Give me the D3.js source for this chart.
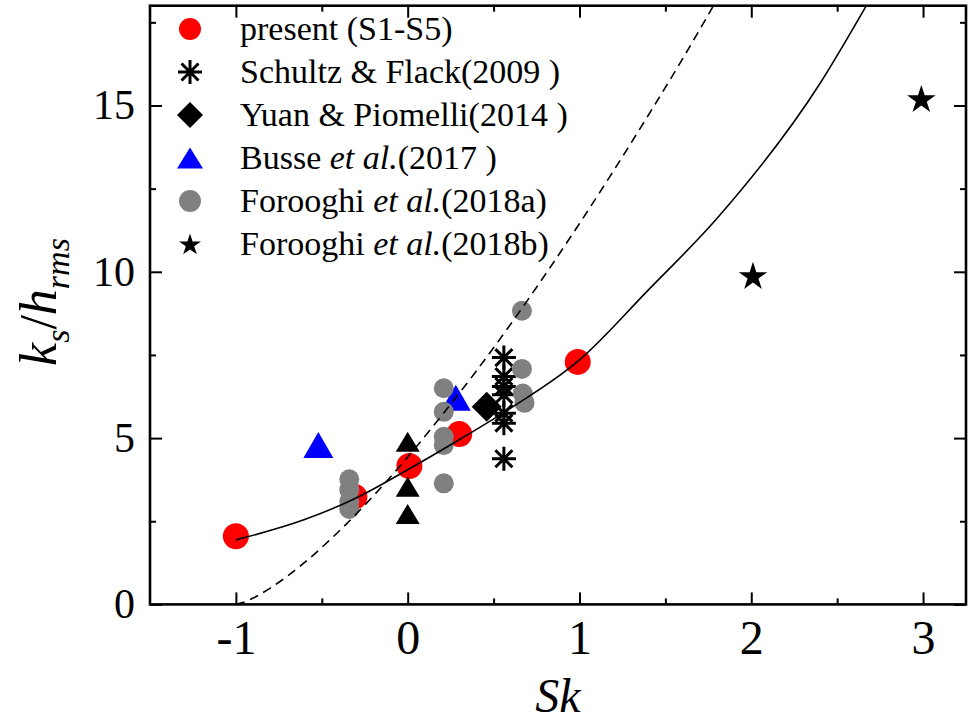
<!DOCTYPE html>
<html><head><meta charset="utf-8">
<script src="https://cdn.jsdelivr.net/npm/d3@7"></script>
<style>
html,body{margin:0;padding:0;background:#fff;}
svg text{font-family:"Liberation Serif","Times New Roman",serif;white-space:pre;}
</style></head>
<body><svg id="c" width="970" height="721"></svg>
<script>
// ---- data ----
const presentX = [-1.0, -0.31, 0.01, 0.30, 0.99];
const presentY = [2.05, 3.24, 4.16, 5.12, 7.29];
const schultzX = [0.56, 0.56, 0.56, 0.56, 0.56, 0.56, 0.56];
const schultzY = [7.42, 6.85, 6.55, 6.30, 5.75, 5.45, 4.38];
const yuanX = [0.46];
const yuanY = [5.94];
const busseX = [-0.52, 0.28];
const busseY = [4.79, 6.21];
const blackTriX = [0, 0, 0];
const blackTriY = [4.89, 3.54, 2.72];
const forooghiAX = [-0.34, -0.34, -0.34, -0.34, 0.21, 0.21, 0.21, 0.21, 0.21, 0.665, 0.665, 0.67, 0.68];
const forooghiAY = [3.76, 3.45, 3.10, 2.87, 6.50, 5.79, 5.04, 4.79, 3.64, 8.83, 7.08, 6.34, 6.06];
const forooghiBX = [2.01, 2.99];
const forooghiBY = [9.89, 15.21];
const solidX = [-1.0, -0.6, -0.3, 0.0, 0.3, 0.6, 1.0, 1.4, 1.8, 2.4, 2.67];
const solidY = [1.94, 2.55, 3.20, 4.05, 4.95, 5.90, 7.35, 9.45, 11.6, 15.66, 18.0];
const dashX = [-1.0, -0.95, -0.9, -0.8, -0.6, -0.4, -0.2, 0.0, 0.2, 0.4, 0.6, 0.8, 1.0, 1.2, 1.4, 1.6, 1.78];
const dashY = [0.0, 0.07, 0.19, 0.49, 1.26, 2.20, 3.26, 4.43, 5.69, 7.02, 8.43, 9.91, 11.45, 13.05, 14.70, 16.40, 18.0];
const xTicks = [-1, 0, 1, 2, 3];
const xMinor = [-0.5, 0.5, 1.5, 2.5];
const yTicks = [0, 5, 10, 15];
const yMinor = [2.5, 7.5, 12.5, 17.5];
const legendLabels = ["present (S1-S5)", "Schultz & Flack(2009 )", "Yuan & Piomelli(2014 )",
  "Busse et al.(2017 )", "Forooghi et al.(2018a)", "Forooghi et al.(2018b)"];

// ---- layout ----
const svg = d3.select("#c");
const L = 150, R = 966, T = 5.7, B = 604.4;
const x = d3.scaleLinear([-1.5, 3.25], [L, R]);
const y = d3.scaleLinear([0, 18], [B, T]);

// shapes
function triPath(w, h){ return `M0,${-h/2}L${w/2},${h/2}L${-w/2},${h/2}Z`; }
function diamondPath(d){ return `M0,${-d}L${d},0L0,${d}L${-d},0Z`; }
function asteriskPath(r){
  let p = "";
  [90, 0, 45, 135].forEach(a => {
    const c = Math.cos(a*Math.PI/180)*r, s = Math.sin(a*Math.PI/180)*r;
    p += `M${-c},${-s}L${c},${s}`;
  });
  return p;
}
const starSym = s => d3.symbol(d3.symbolStar, s)();

const plot = svg.append("g");
svg.append("defs").append("clipPath").attr("id","clip")
  .append("rect").attr("x",L).attr("y",T).attr("width",R-L).attr("height",B-T);

// markers
function pts(X, Y){ return X.map((v,i)=>[v, Y[i]]); }
plot.selectAll(".red").data(pts(presentX,presentY)).join("circle")
  .attr("cx",d=>x(d[0])).attr("cy",d=>y(d[1])).attr("r",13).attr("fill","#ff0000");
plot.selectAll(".ast").data(pts(schultzX,schultzY)).join("path")
  .attr("transform",d=>`translate(${x(d[0])},${y(d[1])})`).attr("d",asteriskPath(12))
  .attr("stroke","#000").attr("stroke-width",3).attr("fill","none");
plot.selectAll(".dia").data(pts(yuanX,yuanY)).join("path")
  .attr("transform",d=>`translate(${x(d[0])},${y(d[1])})`).attr("d",diamondPath(15)).attr("fill","#000");
plot.selectAll(".blue").data(pts(busseX,busseY)).join("path")
  .attr("transform",d=>`translate(${x(d[0])},${y(d[1])})`).attr("d",triPath(30,26)).attr("fill","#0000ff");
plot.selectAll(".gray").data(pts(forooghiAX,forooghiAY)).join("circle")
  .attr("cx",d=>x(d[0])).attr("cy",d=>y(d[1])).attr("r",10).attr("fill","#808080");
plot.selectAll(".btri").data(pts(blackTriX,blackTriY)).join("path")
  .attr("transform",d=>`translate(${x(d[0])},${y(d[1])})`).attr("d",triPath(24,20)).attr("fill","#000");
plot.selectAll(".star").data(pts(forooghiBX,forooghiBY)).join("path")
  .attr("transform",d=>`translate(${x(d[0])},${y(d[1])+1.4})`).attr("d",starSym(252)).attr("fill","#000");

// curves
const line = d3.line().x(d=>x(d[0])).y(d=>y(d[1])).curve(d3.curveMonotoneX);
plot.append("path").datum(pts(solidX,solidY)).attr("d",line).attr("clip-path","url(#clip)")
  .attr("fill","none").attr("stroke","#000").attr("stroke-width",1.6);
plot.append("path").datum(pts(dashX,dashY)).attr("d",line).attr("clip-path","url(#clip)")
  .attr("fill","none").attr("stroke","#000").attr("stroke-width",1.6).attr("stroke-dasharray","9,6");

// axes
function styleAxis(g){ g.select(".domain").remove(); g.selectAll("line").attr("stroke","#000").attr("stroke-width",2); }
const fs = "Liberation Serif";
const fmt = d => String(d);
svg.append("g").attr("transform",`translate(0,${B})`)
  .call(d3.axisBottom(x).tickValues(xTicks).tickSizeInner(-12).tickSizeOuter(0).tickPadding(16).tickFormat(fmt))
  .call(styleAxis).call(g=>g.selectAll("text").attr("font-size",48).attr("font-family",fs).attr("fill","#000"));
svg.append("g").attr("transform",`translate(0,${B})`)
  .call(d3.axisBottom(x).tickValues(xMinor).tickSizeInner(-6).tickSizeOuter(0).tickFormat(""))
  .call(styleAxis);
svg.append("g").attr("transform",`translate(0,${T})`)
  .call(d3.axisTop(x).tickValues(xTicks).tickSizeInner(-12).tickSizeOuter(0).tickFormat(""))
  .call(styleAxis);
svg.append("g").attr("transform",`translate(0,${T})`)
  .call(d3.axisTop(x).tickValues(xMinor).tickSizeInner(-6).tickSizeOuter(0).tickFormat(""))
  .call(styleAxis);
svg.append("g").attr("transform",`translate(${L},0)`)
  .call(d3.axisLeft(y).tickValues(yTicks).tickSizeInner(-12).tickSizeOuter(0).tickPadding(15).tickFormat(fmt))
  .call(styleAxis).call(g=>g.selectAll("text").attr("font-size",42).attr("font-family",fs).attr("fill","#000"));
svg.append("g").attr("transform",`translate(${L},0)`)
  .call(d3.axisLeft(y).tickValues(yMinor).tickSizeInner(-6).tickSizeOuter(0).tickFormat(""))
  .call(styleAxis);
svg.append("g").attr("transform",`translate(${R},0)`)
  .call(d3.axisRight(y).tickValues(yTicks).tickSizeInner(-12).tickSizeOuter(0).tickFormat(""))
  .call(styleAxis);
svg.append("g").attr("transform",`translate(${R},0)`)
  .call(d3.axisRight(y).tickValues(yMinor).tickSizeInner(-6).tickSizeOuter(0).tickFormat(""))
  .call(styleAxis);
svg.append("rect").attr("x",L).attr("y",T).attr("width",R-L).attr("height",B-T)
  .attr("fill","none").attr("stroke","#000").attr("stroke-width",2.6);

// axis titles
svg.append("text").attr("x",(L+R)/2).attr("y",712).attr("text-anchor","middle")
  .attr("font-size",48).attr("font-style","italic").text("Sk");
const yt = svg.append("text").attr("transform","translate(56,302) rotate(-90)")
  .attr("text-anchor","middle").attr("font-size",52);
yt.append("tspan").attr("font-style","italic").text("k");
yt.append("tspan").attr("font-style","italic").attr("font-size",34).attr("dy",13).text("s");
yt.append("tspan").attr("dy",-13).text("/");
yt.append("tspan").attr("font-style","italic").text("h");
yt.append("tspan").attr("font-style","italic").attr("font-size",34).attr("dy",13).text("rms");

// legend
const lg = svg.append("g");
const rows = [29, 72, 115, 158, 201, 244];
const mx = 190;
lg.append("circle").attr("cx",mx).attr("cy",rows[0]).attr("r",11).attr("fill","#ff0000");
lg.append("path").attr("transform",`translate(${mx},${rows[1]})`).attr("d",asteriskPath(12))
  .attr("stroke","#000").attr("stroke-width",3).attr("fill","none");
lg.append("path").attr("transform",`translate(${mx},${rows[2]})`).attr("d",diamondPath(13)).attr("fill","#000");
lg.append("path").attr("transform",`translate(${mx},${rows[3]})`).attr("d",triPath(26,21)).attr("fill","#0000ff");
lg.append("circle").attr("cx",mx).attr("cy",rows[4]).attr("r",11).attr("fill","#808080");
lg.append("path").attr("transform",`translate(${mx},${rows[5]+1})`).attr("d",starSym(150)).attr("fill","#000");
legendLabels.forEach((lab, i) => {
  const t = lg.append("text").attr("x",240).attr("y",rows[i]+11).attr("font-size",34).attr("fill","#000");
  const parts = lab.split(/(et al\.)/);
  parts.forEach(p => { if (!p) return; const s = t.append("tspan").text(p); if (p === "et al.") s.attr("font-style","italic"); });
});
</script></body></html>
